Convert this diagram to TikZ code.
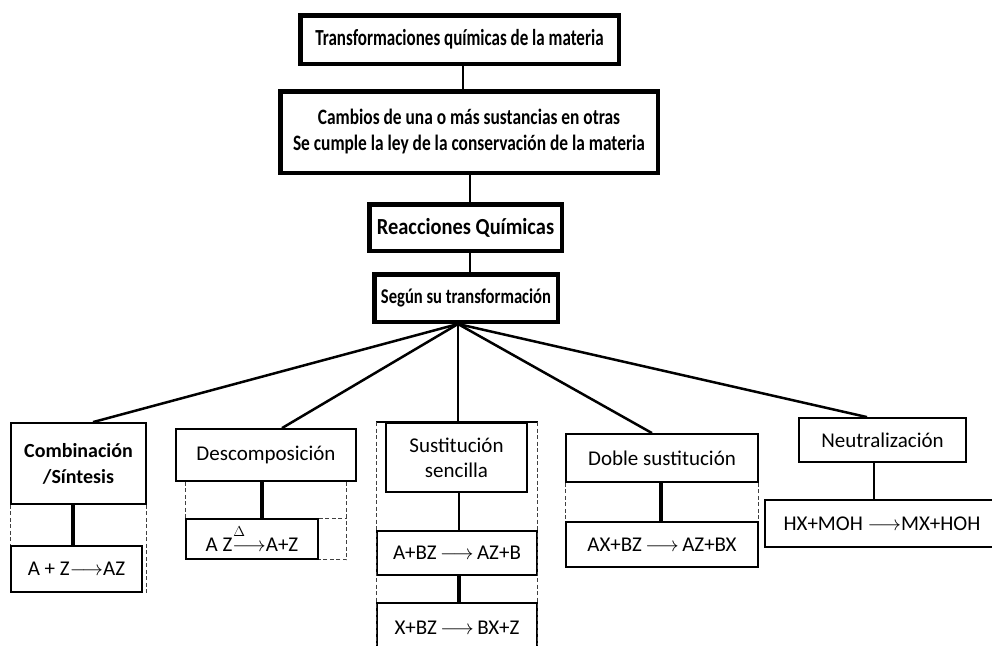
\documentclass[tikz,border=0pt]{standalone}
\usepackage{fontspec}
\setmainfont{Carlito}
\usetikzlibrary{calc}
\newcommand{\cnd}[2][0.75]{\scalebox{#1}[1]{#2}}
\begin{document}
\begin{tikzpicture}[x=1pt,y=-1pt,
  topbox/.style={draw, line width=4.5pt, inner sep=0pt, font=\bfseries\fontsize{23}{27}\selectfont},
  lowbox/.style={draw, line width=1.8pt, inner sep=0pt, font=\fontsize{21}{25}\selectfont, align=center},
  link/.style={line width=2pt},
  fanline/.style={line width=2.5pt},
  heavy/.style={line width=4pt},
  dsh/.style={line width=1pt, black!75, dash pattern=on 4pt off 2.5pt},
]
\useasboundingbox (0,0) rectangle (992,645);
\coordinate (bot) at (0,645);

% top chain
\node[topbox, minimum width=318.5, minimum height=48.5] (t1) at (459.5,39.5)
  {\cnd[0.74]{Transformaciones químicas de la materia}};
\node[topbox, minimum width=377.5, minimum height=81.5, font=\bfseries\fontsize{22}{26}\selectfont] (t2) at (469,132)
  {\cnd[0.79]{\begin{tabular}{@{}c@{}}Cambios de una o más sustancias en otras\\Se cumple la ley de la conservación de la materia\end{tabular}}};
\node[topbox, minimum width=192.5, minimum height=46.5, font=\bfseries\fontsize{23}{27}\selectfont] (t3) at (465.5,227.5)
  {\cnd[0.89]{Reacciones Químicas}};
\node[topbox, minimum width=183.5, minimum height=47.5, font=\bfseries\fontsize{21}{25}\selectfont] (t4) at (466,298)
  {\cnd[0.79]{Según su transformación}};

\draw[link] ([xshift=3.5pt]t1.south) -- ([xshift=3.5pt]t1.south |- t2.north);
\draw[link] ([xshift=1pt]t2.south) -- ([xshift=1pt]t2.south |- t3.north);
\draw[link] ([xshift=4.5pt]t3.south) -- ([xshift=4.5pt]t3.south |- t4.north);
\coordinate (fan) at ([xshift=-8pt]t4.south);

% lower boxes
\node[lowbox, minimum width=135, minimum height=81, font=\bfseries\fontsize{20}{26}\selectfont] (c1) at (78.5,463.5) {Combinación\\/Síntesis};
\node[lowbox, minimum width=131, minimum height=46] (c1eq) at (76.5,569) {A + Z$\longrightarrow$AZ};

\node[lowbox, minimum width=180, minimum height=52] (d1) at (266,455) {Descomposición};
\node[lowbox, minimum width=132, minimum height=40] (d1eq) at (252,539)
  {A Z\rlap{\hspace{1pt}\raisebox{0.72em}{\fontsize{14}{14}\selectfont$\Delta$}}$\longrightarrow$A+Z};

\node[lowbox, minimum width=141, minimum height=69] (s1) at (456.5,457.5) {Sustitución\\sencilla};
\node[lowbox, minimum width=160, minimum height=44] (s1eq1) at (457,553) {A+BZ$\,\longrightarrow\,$AZ+B};
\node[lowbox, minimum width=160, minimum height=49] (s1eq2) at (457,627.5) {X+BZ$\,\longrightarrow\,$BX+Z};

\node[lowbox, minimum width=192, minimum height=48] (ds) at (662,458) {Doble sustitución};
\node[lowbox, minimum width=192, minimum height=45] (dseq) at (662,544.5) {AX+BZ$\,\longrightarrow\,$AZ+BX};

\node[lowbox, minimum width=167, minimum height=44] (n1) at (882.5,440) {Neutralización};
\node[lowbox, minimum width=234, minimum height=47] (neq) at (882,523.5) {HX+MOH $\longrightarrow$MX+HOH};

% fan
\draw[fanline] (fan) -- ([xshift=14.5pt]c1.north);
\draw[fanline] (fan) -- ([xshift=16pt]d1.north);
\draw[fanline] (fan) -- ([xshift=1.5pt]s1.north);
\draw[fanline] (fan) -- ([xshift=-10pt]ds.north);
\draw[fanline] (fan) -- ([xshift=-15.5pt]n1.north);

% Combinacion details
\draw[heavy] ([xshift=-5.5pt]c1.south) -- ([xshift=-5.5pt]c1.south |- c1eq.north);
\draw[dsh] (c1.south west) -- (c1.south west |- c1eq.north);
\draw[dsh] (c1.south east) -- (c1.south east |- c1eq.south);

% Descomposicion details
\draw[heavy] ([xshift=-4pt]d1.south) -- ([xshift=-4pt]d1.south |- d1eq.north);
\coordinate (d1r) at ([xshift=-10pt]d1.south east);
\draw[dsh] (d1eq.north west |- d1.south) -- (d1eq.north west);
\draw[dsh] (d1r) -- (d1r |- d1eq.south) -- (d1eq.south east);
\draw[dsh] (d1eq.north east) -- (d1r |- d1eq.north);

% Sustitucion details
\coordinate (sl) at ([xshift=-9pt]s1.north west);
\coordinate (sr) at ([xshift=10pt]s1.north east);
\draw[line width=1.8pt] (sl) -- (sr);
\draw[dsh] (sl) -- (sl |- bot);
\draw[dsh] (sr) -- (sr |- bot);
\draw[line width=2.5pt] ([xshift=2.5pt]s1.south) -- ([xshift=2.5pt]s1.south |- s1eq1.north);
\draw[heavy] ([xshift=2pt]s1eq1.south) -- ([xshift=2pt]s1eq1.south |- s1eq2.north);

% Doble sustitucion details
\draw[heavy] ([xshift=-1pt]ds.south) -- ([xshift=-1pt]ds.south |- dseq.north);
\draw[dsh] (ds.south west) -- (ds.south west |- dseq.north);
\draw[dsh] (ds.south east) -- (ds.south east |- dseq.north);

% Neutralizacion details
\draw[link] ([xshift=-8.5pt]n1.south) -- ([xshift=-8.5pt]n1.south |- neq.north);
\end{tikzpicture}
\end{document}
